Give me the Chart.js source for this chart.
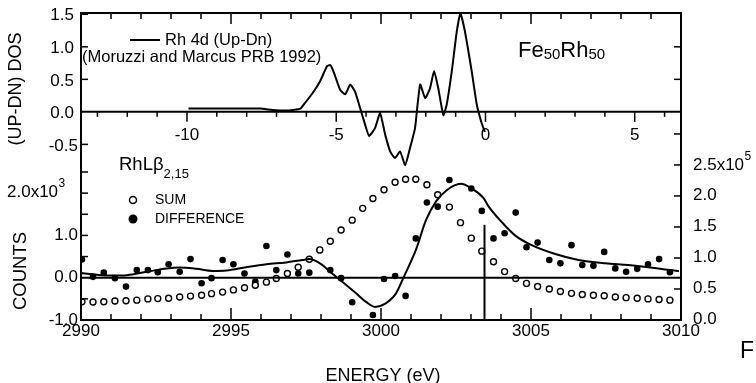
<!DOCTYPE html>
<html>
<head>
<meta charset="utf-8">
<script src="https://cdn.jsdelivr.net/npm/chart.js@4.4.0/dist/chart.umd.min.js"></script>
<style>
  html, body { margin: 0; padding: 0; background: #fff; }
  #wrap { width: 756px; height: 383px; position: relative; }
</style>
</head>
<body>
<div id="wrap"><canvas id="chart"></canvas></div>
<script>
// energies (eV) of the measured points, shared by SUM and DIFFERENCE
const energies = [2990.03, 2990.40, 2990.76, 2991.13, 2991.50, 2991.86, 2992.23, 2992.56, 2992.92, 2993.29,
  2993.65, 2994.02, 2994.35, 2994.72, 2995.08, 2995.45, 2995.81, 2996.18, 2996.51, 2996.88,
  2997.24, 2997.61, 2997.96, 2998.31, 2998.67, 2999.04, 2999.39, 2999.73, 3000.10, 3000.47,
  3000.82, 3001.16, 3001.53, 3001.89, 3002.28, 3002.65, 3003.01, 3003.36, 3003.75, 3004.12,
  3004.49, 3004.85, 3005.22, 3005.61, 3005.98, 3006.35, 3006.71, 3007.08, 3007.44, 3007.81,
  3008.17, 3008.54, 3008.90, 3009.27, 3009.63];
// SUM, x10^5 (right axis)
const sumCounts = [0.295, 0.29, 0.295, 0.306, 0.31, 0.32, 0.34, 0.345, 0.35, 0.37,
  0.385, 0.40, 0.425, 0.45, 0.485, 0.52, 0.56, 0.61, 0.67, 0.75,
  0.85, 0.98, 1.13, 1.27, 1.45, 1.61, 1.80, 1.96, 2.10, 2.22,
  2.27, 2.27, 2.18, 2.02, 1.82, 1.57, 1.32, 1.11, 0.94, 0.78,
  0.67, 0.59, 0.54, 0.50, 0.46, 0.43, 0.41, 0.40, 0.39, 0.37,
  0.36, 0.35, 0.34, 0.33, 0.32];
// DIFFERENCE, x10^3 (left axis)
const diffCounts = [0.43, 0.02, 0.12, -0.01, -0.21, 0.18, 0.18, 0.13, 0.32, 0.14,
  0.44, -0.13, -0.01, 0.42, 0.32, 0.10, -0.09, 0.75, 0.18, 0.55,
  0.10, 0.12, 0.65, 0.18, -0.01, -0.58, null, -0.88, -0.03, 0.04,
  -0.43, 0.93, 1.78, 1.68, 2.31, null, 2.11, 1.58, 0.93, 1.05,
  1.54, 0.72, 0.83, 0.42, 0.34, 0.77, 0.30, 0.28, 0.61, 0.22,
  0.14, 0.21, 0.32, 0.44, 0.13];

// smooth curve through DIFFERENCE
const fitEnergy = [2990.0, 2990.4, 2991.06, 2991.53, 2992.19, 2992.86, 2993.29, 2993.85, 2994.39, 2994.85,
  2995.51, 2996.18, 2996.84, 2997.38, 2997.61, 2997.94, 2998.37, 2998.70, 2999.17, 2999.50,
  2999.80, 3000.13, 3000.50, 3000.76, 3001.16, 3001.50, 3001.83, 3002.19, 3002.66, 3003.02,
  3003.42, 3003.59, 3004.02, 3004.49, 3005.02, 3005.81, 3006.58, 3007.48, 3008.24, 3008.90,
  3009.63, 3009.93];
const fitCounts = [0.11, 0.08, 0.05, 0.06, 0.14, 0.22, 0.24, 0.21, 0.16, 0.17,
  0.25, 0.32, 0.36, 0.42, 0.44, 0.35, 0.10, -0.09, -0.37, -0.57,
  -0.69, -0.62, -0.37, 0.02, 0.65, 1.36, 1.80, 2.07, 2.22, 2.11,
  1.88, 1.68, 1.32, 0.99, 0.77, 0.56, 0.42, 0.34, 0.30, 0.25,
  0.18, 0.16];

// Rh 4d (Up-Dn) DOS, energy relative to EF
const dosEnergy = [-9.95, -8.88, -7.54, -7.14, -6.71, -6.44, -6.20, -6.09, -5.76, -5.54,
  -5.31, -5.20, -5.09, -4.87, -4.70, -4.53, -4.37, -4.20, -4.03, -3.90,
  -3.70, -3.53, -3.36, -3.19, -3.03, -2.86, -2.69, -2.53, -2.36, -2.19,
  -2.02, -1.86, -1.72, -1.58, -1.41, -1.30, -1.13, -0.96, -0.84, -0.69,
  -0.46, -0.29, -0.13, -0.02];
const dosValues = [0.05, 0.05, 0.05, 0.03, 0.02, 0.03, 0.05, 0.11, 0.31, 0.47,
  0.70, 0.72, 0.62, 0.34, 0.27, 0.42, 0.31, 0.06, -0.20, -0.37,
  -0.25, -0.02, -0.35, -0.61, -0.71, -0.61, -0.82, -0.56, -0.25, 0.42,
  0.21, 0.36, 0.63, 0.36, -0.05, 0.11, 0.62, 1.24, 1.52, 1.24,
  0.62, 0.11, -0.17, -0.31];

// Fermi level marker
const fermiEnergy = 3003.45;
const fermiTop = 1.25;

// tick labels
const energyTicks = [2990, 2995, 3000, 3005, 3010];
const dosEnergyTicks = [-10, -5, 0, 5];
const dosTicks = [1.5, 1.0, 0.5, 0.0, -0.5];
const countsTicks = [2.0, 1.0, 0.0, -1.0];
const rightTicks = [2.5, 2.0, 1.5, 1.0, 0.5, 0.0];

const FONT = '"Liberation Sans", Arial, sans-serif';

function txt(ctx, s, x, y, size, align) {
  ctx.font = size + "px " + FONT;
  ctx.textAlign = align || "left";
  ctx.textBaseline = "middle";
  ctx.fillText(s, x, y);
}

function line(ctx, x1, y1, x2, y2) {
  ctx.beginPath();
  ctx.moveTo(x1, y1);
  ctx.lineTo(x2, y2);
  ctx.stroke();
}

function fmt(v) {
  return v.toFixed(1);
}

const framePlugin = {
  id: "frame",
  beforeDraw(chart) {
    const ctx = chart.ctx;
    ctx.save();
    ctx.fillStyle = "#fff";
    ctx.fillRect(0, 0, chart.width, chart.height);
    ctx.restore();
  },
  afterDatasetsDraw(chart) {
    const { ctx, chartArea: a, scales } = chart;
    const x = scales.x, xd = scales.xDos, yd = scales.yDos, yc = scales.yCounts, yr = scales.yRight;
    ctx.save();
    ctx.strokeStyle = "#000";
    ctx.fillStyle = "#000";
    ctx.lineWidth = 2;
    ctx.strokeRect(a.left, a.top, a.right - a.left, a.bottom - a.top);

    // zero lines
    const yDos0 = yd.getPixelForValue(0);
    const yCnt0 = yc.getPixelForValue(0);
    line(ctx, a.left, yDos0, a.right, yDos0);
    line(ctx, a.left, yCnt0, a.right, yCnt0);

    ctx.lineWidth = 1.5;
    // energy ticks, bottom and top
    for (let e = 2991; e <= 3009; e++) {
      const px = x.getPixelForValue(e);
      const major = e % 5 === 0;
      line(ctx, px, a.bottom, px, a.bottom - (major ? 12 : 6));
      line(ctx, px, a.top, px, a.top + (major ? 11 : 6));
    }
    // DOS energy ticks on the zero line
    for (let e = -13; e <= 6; e++) {
      const px = xd.getPixelForValue(e);
      line(ctx, px, yDos0, px, yDos0 + (e % 5 === 0 ? 10 : 5));
    }
    // left ticks
    [1.5, 1.0, 0.5, -0.5].forEach((v) => {
      const py = yd.getPixelForValue(v);
      line(ctx, a.left, py, a.left + 7, py);
    });
    [2.5, 2.0, 1.5, 1.0, 0.5, -0.5].forEach((v) => {
      const py = yc.getPixelForValue(v);
      line(ctx, a.left, py, a.left + 7, py);
    });
    // right ticks
    [1.0, 0.5].forEach((v) => {
      const py = yd.getPixelForValue(v);
      line(ctx, a.right, py, a.right - 7, py);
    });
    [3.0, 2.5, 2.0, 1.5, 1.0, 0.5].forEach((v) => {
      const py = yr.getPixelForValue(v);
      line(ctx, a.right, py, a.right - 7, py);
    });

    // tick labels
    energyTicks.forEach((v) => txt(ctx, String(v), x.getPixelForValue(v), 331, 17, "center"));
    dosEnergyTicks.forEach((v) => txt(ctx, String(v), xd.getPixelForValue(v), 135, 17, "center"));
    dosTicks.forEach((v) => txt(ctx, fmt(v), v < 0 ? 78 : 74, yd.getPixelForValue(v) + 1.5, 17, "right"));
    countsTicks.forEach((v) => {
      const py = yc.getPixelForValue(v);
      if (v === 2.0) {
        txt(ctx, "2.0x10", 7, py - 1, 17, "left");
        ctx.font = "17px " + FONT;
        const w = ctx.measureText("2.0x10").width;
        txt(ctx, "3", 7 + w + 0.5, py - 9, 12, "left");
      } else {
        txt(ctx, fmt(v), 78, py, 17, "right");
      }
    });
    rightTicks.forEach((v) => {
      const py = yr.getPixelForValue(v);
      if (v === 2.5) {
        txt(ctx, "2.5x10", 693, py, 17, "left");
        ctx.font = "17px " + FONT;
        const w = ctx.measureText("2.5x10").width;
        txt(ctx, "5", 693 + w + 0.5, py - 8, 12, "left");
      } else {
        txt(ctx, fmt(v), 693, py - 1, 17, "left");
      }
    });

    // axis titles
    ctx.save();
    ctx.translate(16, 89);
    ctx.rotate(-Math.PI / 2);
    txt(ctx, "(UP-DN) DOS", 0, 0, 18, "center");
    ctx.restore();
    ctx.save();
    ctx.translate(21, 271);
    ctx.rotate(-Math.PI / 2);
    txt(ctx, "COUNTS", 0, 0, 18.5, "center");
    ctx.restore();
    txt(ctx, "ENERGY (eV)", 383, 376, 18, "center");
    txt(ctx, "F", 747, 352, 23, "center");

    // DOS legend
    ctx.lineWidth = 2;
    line(ctx, 130, 40, 160, 40);
    txt(ctx, "Rh 4d (Up-Dn)", 165, 40, 16.5, "left");
    txt(ctx, "(Moruzzi and Marcus PRB 1992)", 82, 57, 16.5, "left");

    // Fe50Rh50
    ctx.textBaseline = "alphabetic";
    ctx.textAlign = "left";
    let cx = 518;
    [["Fe", 22, 57], ["50", 15, 59], ["Rh", 22, 57], ["50", 15, 59]].forEach(([s, size, by]) => {
      ctx.font = size + "px " + FONT;
      ctx.fillText(s, cx, by);
      cx += ctx.measureText(s).width;
    });

    // RhLβ2,15
    cx = 119;
    [["RhL\u03b2", 18.5, 170], ["2,15", 13, 178]].forEach(([s, size, by]) => {
      ctx.font = size + "px " + FONT;
      ctx.fillText(s, cx, by);
      cx += ctx.measureText(s).width;
    });

    // SUM / DIFFERENCE legend
    ctx.lineWidth = 1.5;
    ctx.beginPath();
    ctx.arc(133, 200, 3.5, 0, Math.PI * 2);
    ctx.fillStyle = "#fff";
    ctx.fill();
    ctx.stroke();
    ctx.fillStyle = "#000";
    ctx.beginPath();
    ctx.arc(133, 219, 4.5, 0, Math.PI * 2);
    ctx.fill();
    txt(ctx, "SUM", 155, 200, 14, "left");
    txt(ctx, "DIFFERENCE", 155, 219, 14, "left");

    ctx.restore();
  },
};

const pairs = (xs, ys) => xs.map((v, i) => ({ x: v, y: ys[i] })).filter((p) => p.y !== null);

new Chart(document.getElementById("chart"), {
  type: "scatter",
  data: {
    datasets: [
      {
        label: "Rh 4d (Up-Dn)",
        data: pairs(dosEnergy, dosValues),
        xAxisID: "xDos",
        yAxisID: "yDos",
        showLine: true,
        borderColor: "#000",
        borderWidth: 2,
        pointRadius: 0,
        tension: 0.15,
      },
      {
        label: "fit",
        data: pairs(fitEnergy, fitCounts),
        xAxisID: "x",
        yAxisID: "yCounts",
        showLine: true,
        borderColor: "#000",
        borderWidth: 2,
        pointRadius: 0,
        cubicInterpolationMode: "monotone",
      },
      {
        label: "EF",
        data: [{ x: fermiEnergy, y: -1 }, { x: fermiEnergy, y: fermiTop }],
        xAxisID: "x",
        yAxisID: "yCounts",
        showLine: true,
        borderColor: "#000",
        borderWidth: 2,
        pointRadius: 0,
      },
      {
        label: "SUM",
        data: pairs(energies, sumCounts),
        xAxisID: "x",
        yAxisID: "yRight",
        pointRadius: 3,
        pointBorderWidth: 1.4,
        pointBackgroundColor: "#fff",
        pointBorderColor: "#000",
      },
      {
        label: "DIFFERENCE",
        data: pairs(energies, diffCounts),
        xAxisID: "x",
        yAxisID: "yCounts",
        pointRadius: 3.3,
        pointBorderWidth: 0,
        pointBackgroundColor: "#000",
        pointBorderColor: "#000",
      },
    ],
  },
  options: {
    responsive: true,
    maintainAspectRatio: false,
    animation: false,
    events: [],
    layout: { padding: { left: 81, right: 75, top: 13, bottom: 63 } },
    plugins: { legend: { display: false }, tooltip: { enabled: false } },
    scales: {
      x: { type: "linear", axis: "x", min: 2990, max: 3010, display: false },
      xDos: { type: "linear", axis: "x", min: -13.55, max: 6.55, display: false },
      yDos: { type: "linear", axis: "y", min: -3.2, max: 1.52, display: false },
      yCounts: { type: "linear", axis: "y", min: -1, max: 6.26, display: false },
      yRight: { type: "linear", axis: "y", min: 0, max: 4.95, display: false },
    },
  },
  plugins: [framePlugin],
});
</script>
</body>
</html>
